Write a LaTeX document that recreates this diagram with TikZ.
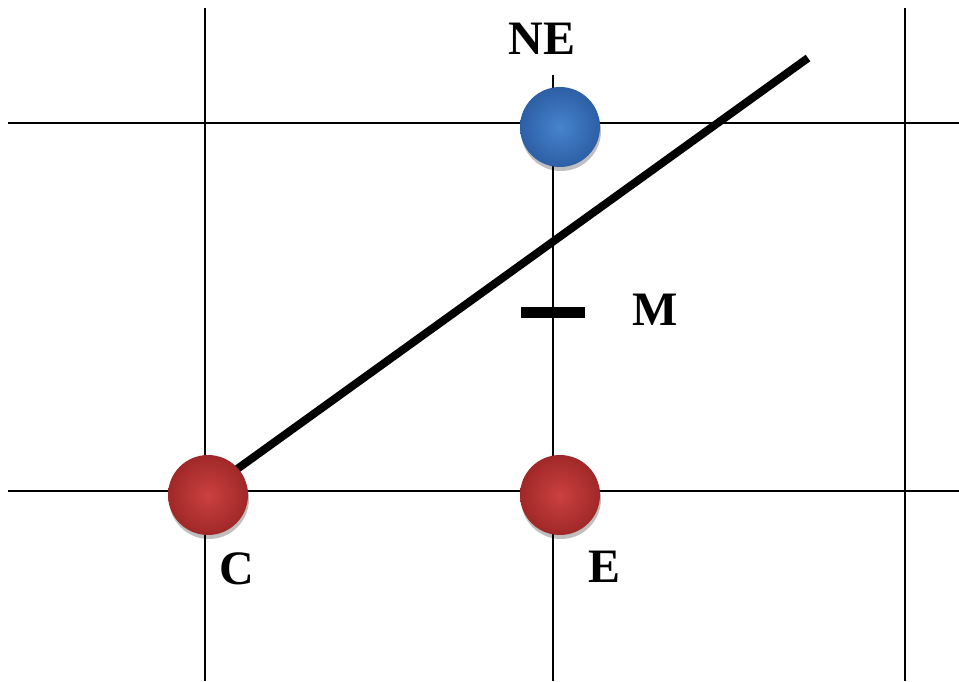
\documentclass[tikz,border=0pt]{standalone}
\usepackage{fontspec}
\setmainfont{Liberation Serif}
\usetikzlibrary{shadows}
\definecolor{ballred}{RGB}{204,64,64}
\definecolor{ballreddark}{RGB}{160,40,40}
\definecolor{ballblue}{RGB}{70,132,204}
\definecolor{ballbluedark}{RGB}{45,95,165}
\tikzset{
  gridline/.style={line width=2pt, black},
  ball/.style={circle, minimum size=80pt, inner sep=0pt, draw=none,
    drop shadow={shadow xshift=1pt, shadow yshift=-4pt, opacity=0.25, fill=black}},
  redball/.style={ball, inner color=ballred, outer color=ballreddark},
  blueball/.style={ball, inner color=ballblue, outer color=ballbluedark},
  lbl/.style={font=\fontsize{48}{52}\selectfont\bfseries, inner sep=0pt, anchor=center},
}
\begin{document}
\begin{tikzpicture}[x=1pt,y=-1pt]
\useasboundingbox (0,0) rectangle (959,681);
\fill[white] (0,0) rectangle (959,681);
% grid
\draw[gridline] (205,8) -- (205,681);
\draw[gridline] (553,75) -- (553,681);
\draw[gridline] (905,8) -- (905,681);
\draw[gridline] (8,123) -- (959,123);
\draw[gridline] (8,491) -- (959,491);
% M marker
\coordinate (mleft) at (521,312);
\coordinate (mright) at (585,312);
\draw[line width=11pt] (mleft) -- (mright);
% line
\coordinate (lineend) at (808,58);
\coordinate (linestart) at (208,490);
\draw[line width=8pt] (linestart) -- (lineend);
% balls
\node[redball] (c) at (208,495) {};
\node[redball] (e) at (560,495) {};
\node[blueball] (ne) at (560,127) {};
% labels
\node[lbl] (lne) at (542,39) {NE};
\node[lbl] (lm) at (655,310) {M};
\node[lbl] (lc) at (237,569) {C};
\node[lbl] (le) at (605,567) {E};
\end{tikzpicture}
\end{document}
